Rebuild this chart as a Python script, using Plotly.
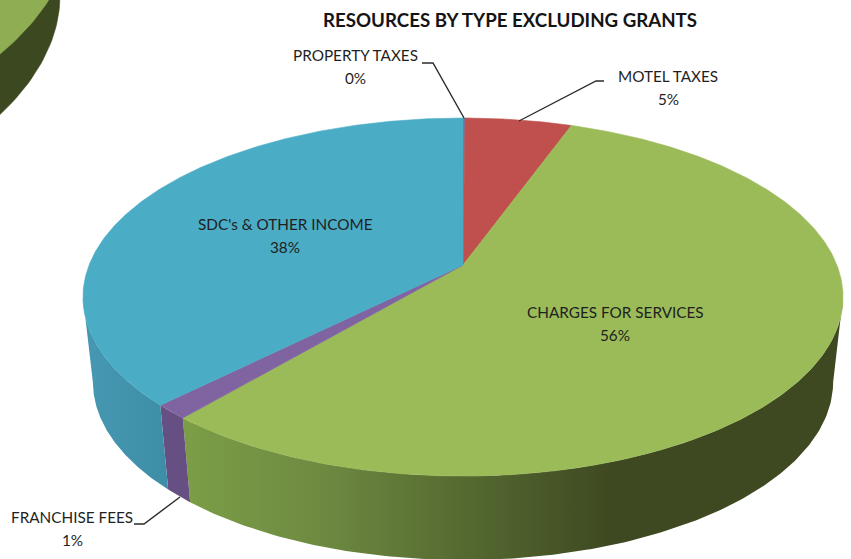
import numpy as np
import plotly.graph_objects as go

# Resource shares, clockwise from twelve o'clock
categories = ["PROPERTY TAXES", "MOTEL TAXES", "CHARGES FOR SERVICES", "FRANCHISE FEES", "SDC's & OTHER INCOME"]
shares = [0.1, 5.4, 55.7, 1.3, 37.5]
top_colors = ["#4f81bd", "#c0504d", "#9bbb59", "#8064a2", "#4bacc6"]
wall_scales = [
    [[0, "#3f6f9f"], [1, "#3f6f9f"]],
    [[0, "#93393a"], [1, "#93393a"]],
    [[0, "#7b9d46"], [0.2, "#6e8a41"], [0.41, "#566b31"], [0.65, "#3e4821"], [1, "#3e4821"]],
    [[0, "#664f82"], [1, "#664f82"]],
    [[0, "#4697b1"], [1, "#3d8da6"]],
]
title = "RESOURCES BY TYPE EXCLUDING GRANTS"

# Pie drawn in perspective; all numbers below are in canvas pixels
W, H = 851, 559
CX, CY = 463, 265
A, B, K = 373.9, 173.3, 0.179
WALL_DROP, WALL_X, WALL_Y = 85, 0.974, 0.995
EDGE_START = np.degrees(np.arccos(-K))          # where the rim is widest on the right
EDGE_END = 360 - EDGE_START


def rim(theta_deg, drop=0.0, sx=1.0, sy=1.0):
    t = np.radians(theta_deg)
    u, v = np.sin(t), -np.cos(t)
    d = 1 - K * v
    return CX + sx * A * u / d, CY + drop + sy * B * v / d


def polygon(x, y, fill, **extra):
    return go.Scatter(x=x, y=y, mode="lines", fill="toself", fillcolor=fill,
                      line=dict(width=0.6 if "fillgradient" not in extra else 0, color=fill),
                      hoverinfo="skip", showlegend=False, **extra)


edges = np.cumsum([0] + shares) / sum(shares) * 360
fig = go.Figure()

# Neighbouring pie, mostly outside the canvas at the upper left
arc = np.radians(np.linspace(0, 100, 120))
nb_x = -560 + 620 * np.cos(arc)
nb_y = -5 + 279 * np.sin(arc)
fig.add_trace(polygon(np.r_[nb_x, -700, -700], np.r_[nb_y, 400, -5], "#3c4820"))
nb_tx = -560 + 632 * np.cos(arc)
nb_ty = -75 + 279 * np.sin(arc)
fig.add_trace(polygon(np.r_[nb_tx, -700, -700], np.r_[nb_ty, 400, -75], "#8fad52"))

# Side walls of the slices that face the viewer
for i in range(len(shares)):
    lo, hi = max(edges[i], EDGE_START), min(edges[i + 1], EDGE_END)
    if hi <= lo:
        continue
    th = np.linspace(lo, hi, 160)
    tx, ty = rim(th)
    bx, by = rim(th, WALL_DROP, WALL_X, WALL_Y)
    fig.add_trace(polygon(
        np.r_[tx, bx[::-1], tx[0]], np.r_[ty, by[::-1], ty[0]],
        wall_scales[i][0][1],
        fillgradient=dict(type="horizontal", colorscale=wall_scales[i], start=190, stop=843)
        if i != 4 else dict(type="horizontal", colorscale=wall_scales[i], start=90, stop=170),
    ))

# Top faces
for i in range(len(shares)):
    th = np.linspace(edges[i], edges[i + 1], max(3, int((edges[i + 1] - edges[i]) * 2)))
    x, y = rim(th)
    fig.add_trace(polygon(np.r_[CX, x, CX], np.r_[CY, y, CY], top_colors[i]))

# Leader lines
leaders = [
    ([422, 433, 464], [63, 63, 118]),
    ([604, 596, 519], [81, 81, 121]),
    ([134, 144, 180], [524, 524, 497]),
]
for lx, ly in leaders:
    fig.add_trace(go.Scatter(x=lx, y=ly, mode="lines", line=dict(color="#2b2b2b", width=1.4),
                             hoverinfo="skip", showlegend=False))

# Category and percent labels: (centre x, name y, percent y)
label_pos = [(355, 55, 78), (668, 76, 99), (615, 312, 335), (72, 517, 540), (285, 224, 247)]
annotations = []
for name, share, (lx, ny, py) in zip(categories, shares, label_pos):
    for text, yy in ((name, ny), (f"{round(share):d}%", py)):
        annotations.append(dict(x=lx, y=yy, text=text, showarrow=False, xref="x", yref="y",
                                font=dict(family="Lato", size=15.3, color="#1f1f1f")))
annotations.append(dict(x=510, y=20, text=f"<b>{title}</b>", showarrow=False, xref="x", yref="y",
                        font=dict(family="Lato", size=18.7, color="#141414")))

fig.update_layout(
    width=W, height=H, margin=dict(l=0, r=0, t=0, b=0),
    paper_bgcolor="white", plot_bgcolor="white", annotations=annotations,
    xaxis=dict(range=[0, W], visible=False, fixedrange=True),
    yaxis=dict(range=[H, 0], visible=False, fixedrange=True),
)
fig.write_html("out.html", config={"displayModeBar": False})
